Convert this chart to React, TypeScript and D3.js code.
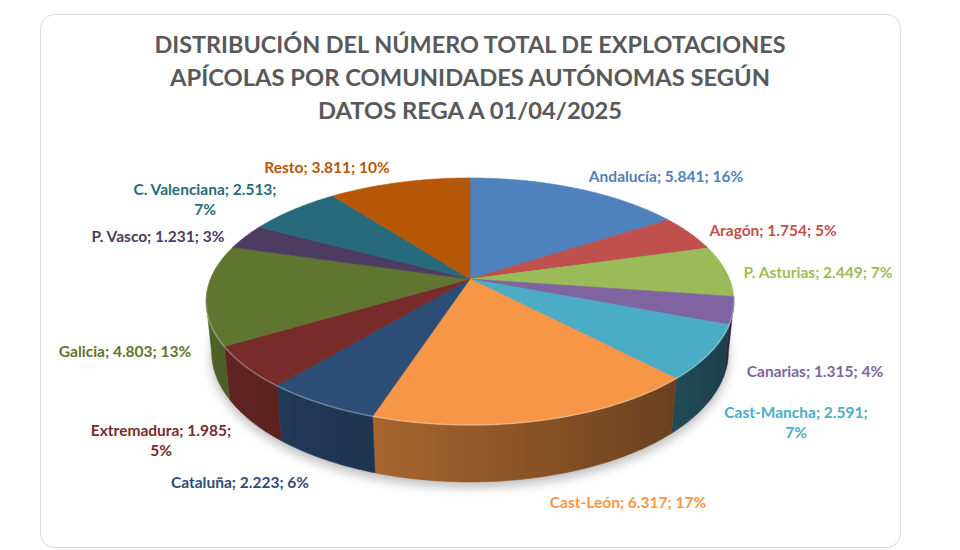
import React, { useMemo } from 'react';
import * as d3 from 'd3';

// datos REGA a 01/04/2025
const regions = [
  "Andalucía", "Aragón", "P. Asturias", "Canarias", "Cast-Mancha", "Cast-León",
  "Cataluña", "Extremadura", "Galicia", "P. Vasco", "C. Valenciana", "Resto",
];
const farms = [5841, 1754, 2449, 1315, 2591, 6317, 2223, 1985, 4803, 1231, 2513, 3811];
const colors = [
  "#4F81BD", "#C0504D", "#9BBB59", "#8064A2", "#4BACC6", "#F79646",
  "#2C4D75", "#772C2A", "#5F7530", "#4D3B62", "#276A7C", "#B65708",
];
const titleLines = [
  "DISTRIBUCIÓN DEL NÚMERO TOTAL DE EXPLOTACIONES",
  "APÍCOLAS POR COMUNIDADES AUTÓNOMAS SEGÚN",
  "DATOS REGA A 01/04/2025",
];
// labels that Excel wrapped after the value
const wrapped = ["C. Valenciana", "Extremadura", "Cast-Mancha"];

// layout
const W = 960, H = 550;
const cx = 470, cy = 279;
const focal = 1266;
const radius = 0.205;
const thick = 0.0452;
const tilt = 27.4 * Math.PI / 180;
const titleY = [53, 86, 119];
const titleW = [631, 600, 304];
const labelAt: Record<string, [number, number]> = {
  "Andalucía": [666, 176], "Aragón": [773, 230], "P. Asturias": [818, 272],
  "Canarias": [815, 371], "Cast-Mancha": [796, 412], "Cast-León": [628, 502],
  "Cataluña": [240, 482], "Extremadura": [161, 430], "Galicia": [125, 351],
  "P. Vasco": [158, 236], "C. Valenciana": [205, 189], "Resto": [327, 167],
};

const es = d3.formatLocale({ decimal: ",", thousands: ".", grouping: [3], currency: ["", " €"] });
const fmt = es.format(",");

function project(a: number, r: number, h: number): [number, number] {
  const u = r * Math.sin(a), v = r * Math.cos(a);
  const yv = v * Math.sin(tilt) + h * Math.cos(tilt);
  const dz = 1 + v * Math.cos(tilt) - h * Math.sin(tilt);
  return [cx + focal * u / dz, cy - focal * yv / dz];
}

function samples(a0: number, a1: number) {
  const n = Math.max(2, Math.ceil((a1 - a0) / 0.01));
  return d3.range(n + 1).map(i => a0 + (a1 - a0) * i / n);
}

const shade = (c: string, a: number) => {
  const m = 0.6 - 0.25 * Math.sin(a);
  const rgb = d3.rgb(c);
  return d3.rgb(rgb.r * m, rgb.g * m, rgb.b * m).formatHex();
};

const App = () => {
  const total = d3.sum(farms);
  const data = regions.map((name, i) => ({ name, value: farms[i], color: colors[i] }));
  const arcs = useMemo(() => d3.pie<any>().sort(null).value(d => d.value)(data), []);
  const line = d3.line().curve(d3.curveLinearClosed);

  const k = radius * Math.cos(tilt);
  const frontA = Math.acos(-k), frontB = 2 * Math.PI - frontA;

  const shadowPts = samples(0, 2 * Math.PI).map(a => {
    const p = project(a, radius, -thick);
    return [p[0], p[1] + 5] as [number, number];
  });

  const walls = arcs.map((d, i) => {
    const a0 = Math.max(d.startAngle, frontA), a1 = Math.min(d.endAngle, frontB);
    if (a1 <= a0) return null;
    const ss = samples(a0, a1);
    const top = ss.map(a => project(a, radius, 0));
    const bot = ss.map(a => project(a, radius, -thick)).reverse();
    const xs = top.map(p => p[0]);
    const x0 = d3.min(xs)!, x1 = d3.max(xs)!;
    const stops = ss.map((a, j) => ({ off: (xs[j] - x0) / Math.max(1, x1 - x0), col: shade(d.data.color, a) }))
      .sort((p, q) => p.off - q.off);
    return { i, path: line([...top, ...bot])!, rim: d3.line()(top)!, x0, x1, stops, color: d.data.color };
  }).filter(Boolean) as any[];

  const tops = arcs.map(d => {
    const pts = [project(0, 0, 0), ...samples(d.startAngle, d.endAngle).map(a => project(a, radius, 0))];
    return { path: line(pts)!, color: d.data.color };
  });

  return (
    <svg width={W} height={H} style={{ position: 'absolute', left: 0, top: 0 }}
      fontFamily="Lato, 'Open Sans', sans-serif">
      <defs>
        <filter id="blur" x="-20%" y="-20%" width="140%" height="140%">
          <feGaussianBlur stdDeviation="6" />
        </filter>
        {walls.map(w => (
          <linearGradient key={w.i} id={`wall${w.i}`} gradientUnits="userSpaceOnUse"
            x1={w.x0} x2={w.x1} y1={0} y2={0}>
            {w.stops.map((s: any, j: number) => <stop key={j} offset={s.off} stopColor={s.col} />)}
          </linearGradient>
        ))}
      </defs>
      <rect x={0} y={0} width={W} height={H} fill="#fff" />
      <rect x={40.5} y={14.5} width={860} height={533} rx={14} fill="#fff" stroke="#D9D9D9" />

      {titleLines.map((t, i) => (
        <text key={i} x={cx} y={titleY[i]} textAnchor="middle" fontSize={22} fontWeight="bold"
          fill="#595959" textLength={titleW[i]} lengthAdjust="spacingAndGlyphs">{t}</text>
      ))}

      <path d={line(shadowPts)!} fill="#000" opacity={0.28} filter="url(#blur)" />
      {walls.map(w => (
        <path key={w.i} d={w.path} fill={`url(#wall${w.i})`} stroke={`url(#wall${w.i})`} strokeWidth={0.5} />
      ))}
      {tops.map((t, i) => (
        <path key={i} d={t.path} fill={t.color} stroke={t.color} strokeWidth={0.6} strokeLinejoin="round" />
      ))}
      {walls.map(w => (
        <path key={w.i} d={w.rim} fill="none" stroke="#fff" strokeOpacity={0.3} strokeWidth={1.5} />
      ))}

      {data.map((d, i) => {
        const pct = Math.round(d.value / total * 100);
        const [lx, ly] = labelAt[d.name];
        const full = `${d.name}; ${fmt(d.value)}; ${pct}%`;
        const wrap = wrapped.includes(d.name);
        return (
          <text key={i} x={lx} y={ly + 5.5} textAnchor="middle" fontSize={15.5} fontWeight="bold" fill={d.color}>
            {wrap ? (
              <>
                <tspan x={lx}>{`${d.name}; ${fmt(d.value)};`}</tspan>
                <tspan x={lx} dy={20.5}>{`${pct}%`}</tspan>
              </>
            ) : full}
          </text>
        );
      })}
    </svg>
  );
};

export default App;
